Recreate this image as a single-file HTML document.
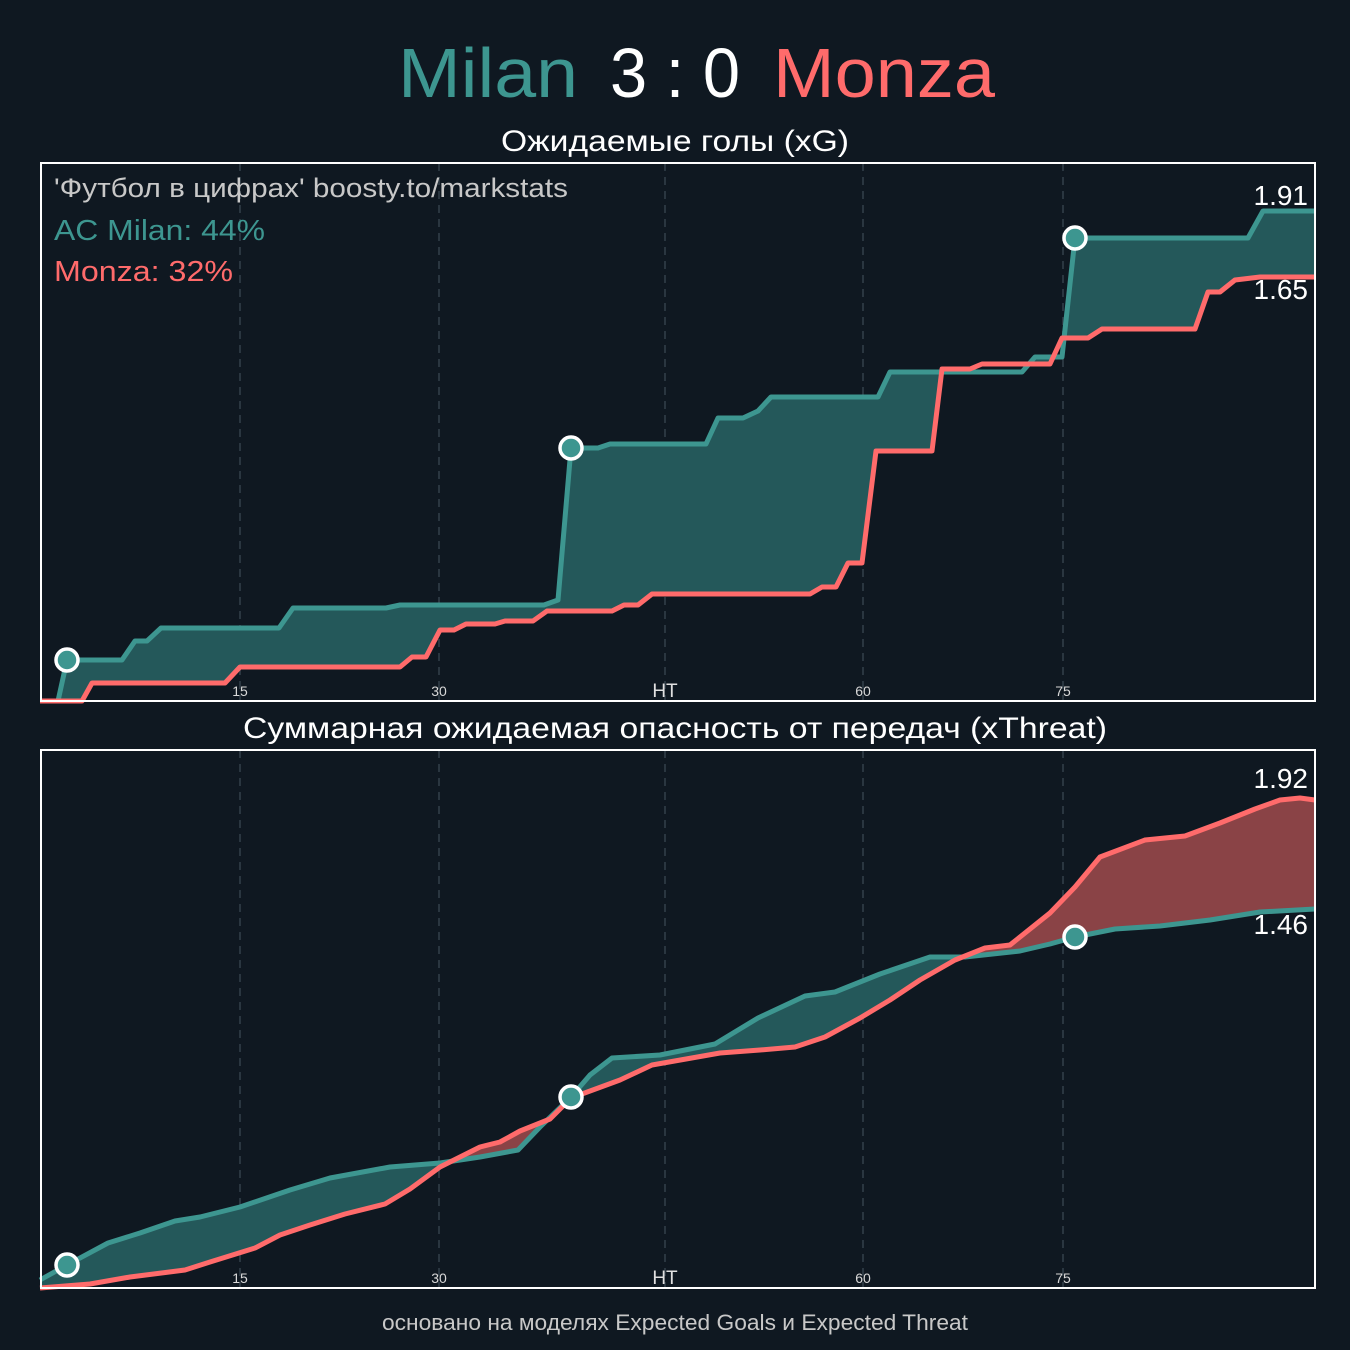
<!DOCTYPE html>
<html><head><meta charset="utf-8"><style>
html,body{margin:0;padding:0;background:#0f1821;}
svg{display:block;font-family:"Liberation Sans",sans-serif;}
</style></head><body>
<svg width="1350" height="1350" viewBox="0 0 1350 1350" xmlns="http://www.w3.org/2000/svg">
<rect width="1350" height="1350" fill="#0f1821"/>
<defs>
<clipPath id="aboveMonzaT"><polygon points="40,0 40,701 82,701 92,683 225,683 240,667 400,667 412,657 426,657 440,630 454,630 466,624 495,624 505,621 533,621 547,611 612,611 624,605 638,605 652,594 810,594 822,587 836,587 848,563 862,563 876,451 932,451 942,369 970,369 982,364 1050,364 1062,338 1088,338 1102,329 1195,329 1208,292 1220,292 1235,280 1260,277 1315,277 1315,0"/></clipPath>
<clipPath id="aboveMonzaB"><polygon points="40,700 40,1288 90,1284 130,1277 185,1270 210,1262 255,1248 280,1235 310,1225 345,1214 385,1204 410,1189 440,1167 480,1147 500,1142 520,1131 550,1119 571,1098 620,1080 652,1065 720,1053 760,1050 795,1047 825,1037 860,1018 890,1000 920,980 955,960 985,948 1010,945 1050,913 1075,887 1100,857 1145,840 1185,836 1220,823 1255,809 1280,800 1300,798 1315,800 1315,700"/></clipPath>
<clipPath id="aboveMilanB"><polygon points="40,700 40,1280 67,1265 108,1243 140,1233 175,1221 200,1217 240,1207 290,1190 330,1178 390,1167 440,1163 480,1157 518,1150 540,1127 571,1097 590,1075 612,1058 660,1055 715,1044 758,1018 805,996 835,992 880,974 930,957 965,957 1020,951 1050,944 1075,937 1115,929 1160,926 1210,920 1260,912 1315,909 1315,700"/></clipPath>
</defs>

<text x="398" y="97" font-size="70" fill="#3d9690" textLength="180" lengthAdjust="spacingAndGlyphs">Milan</text>
<text x="610" y="97" font-size="70" fill="#ffffff" textLength="130" lengthAdjust="spacingAndGlyphs">3 : 0</text>
<text x="773" y="97" font-size="70" fill="#ff6b6b" textLength="222" lengthAdjust="spacingAndGlyphs">Monza</text>
<text x="675" y="151" font-size="30" fill="#ffffff" text-anchor="middle" textLength="348" lengthAdjust="spacingAndGlyphs">Ожидаемые голы (xG)</text>
<text x="675" y="738" font-size="30" fill="#ffffff" text-anchor="middle" textLength="864" lengthAdjust="spacingAndGlyphs">Суммарная ожидаемая опасность от передач (xThreat)</text>
<text x="675" y="1330" font-size="22" fill="#c8c8c8" text-anchor="middle" textLength="586" lengthAdjust="spacingAndGlyphs">основано на моделях Expected Goals и Expected Threat</text>

<!-- grid lines -->
<g stroke="#2a3640" stroke-width="2" stroke-dasharray="8,6">
<line x1="240" y1="163" x2="240" y2="700"/><line x1="439" y1="163" x2="439" y2="700"/><line x1="665" y1="163" x2="665" y2="700"/><line x1="863" y1="163" x2="863" y2="700"/><line x1="1063" y1="163" x2="1063" y2="700"/>
<line x1="240" y1="750" x2="240" y2="1287"/><line x1="439" y1="750" x2="439" y2="1287"/><line x1="665" y1="750" x2="665" y2="1287"/><line x1="863" y1="750" x2="863" y2="1287"/><line x1="1063" y1="750" x2="1063" y2="1287"/>
</g>

<!-- TOP chart fill -->
<polygon clip-path="url(#aboveMonzaT)" fill="#24585a" points="40,701 58,701 67,660 122,660 135,641 147,641 161,628 279,628 293,608 386,608 400,605 544,605 558,600 571,448 598,448 610,444 706,444 718,418 743,418 758,411 771,397 878,397 890,372 1022,372 1035,357 1062,357 1075,238 1248,238 1263,211 1315,211 1315,277 1260,277 1235,280 1220,292 1208,292 1195,329 1102,329 1088,338 1062,338 1050,364 982,364 970,369 942,369 932,451 876,451 862,563 848,563 836,587 822,587 810,594 652,594 638,605 624,605 612,611 547,611 533,621 505,621 495,624 466,624 454,630 440,630 426,657 412,657 400,667 240,667 225,683 92,683 82,701"/>
<polyline fill="none" stroke="#3d9690" stroke-width="5" stroke-linejoin="round" points="40,701 58,701 67,660 122,660 135,641 147,641 161,628 279,628 293,608 386,608 400,605 544,605 558,600 571,448 598,448 610,444 706,444 718,418 743,418 758,411 771,397 878,397 890,372 1022,372 1035,357 1062,357 1075,238 1248,238 1263,211 1315,211"/>
<polyline fill="none" stroke="#ff6b6b" stroke-width="5" stroke-linejoin="round" points="40,701 82,701 92,683 225,683 240,667 400,667 412,657 426,657 440,630 454,630 466,624 495,624 505,621 533,621 547,611 612,611 624,605 638,605 652,594 810,594 822,587 836,587 848,563 862,563 876,451 932,451 942,369 970,369 982,364 1050,364 1062,338 1088,338 1102,329 1195,329 1208,292 1220,292 1235,280 1260,277 1315,277"/>
<g fill="#3d9690" stroke="#ffffff" stroke-width="3.5">
<circle cx="67" cy="660" r="11"/><circle cx="571" cy="448" r="11"/><circle cx="1075" cy="238" r="11"/>
</g>

<!-- BOTTOM chart fill -->
<polygon id="bfill" clip-path="url(#aboveMonzaB)" fill="#24585a" points="40,1280 67,1265 108,1243 140,1233 175,1221 200,1217 240,1207 290,1190 330,1178 390,1167 440,1163 480,1157 518,1150 540,1127 571,1097 590,1075 612,1058 660,1055 715,1044 758,1018 805,996 835,992 880,974 930,957 965,957 1020,951 1050,944 1075,937 1115,929 1160,926 1210,920 1260,912 1315,909 1315,800 1300,798 1280,800 1255,809 1220,823 1185,836 1145,840 1100,857 1075,887 1050,913 1010,945 985,948 955,960 920,980 890,1000 860,1018 825,1037 795,1047 760,1050 720,1053 652,1065 620,1080 571,1098 550,1119 520,1131 500,1142 480,1147 440,1167 410,1189 385,1204 345,1214 310,1225 280,1235 255,1248 210,1262 185,1270 130,1277 90,1284 40,1288"/>
<polygon clip-path="url(#aboveMilanB)" fill="#8a4346" points="40,1280 67,1265 108,1243 140,1233 175,1221 200,1217 240,1207 290,1190 330,1178 390,1167 440,1163 480,1157 518,1150 540,1127 571,1097 590,1075 612,1058 660,1055 715,1044 758,1018 805,996 835,992 880,974 930,957 965,957 1020,951 1050,944 1075,937 1115,929 1160,926 1210,920 1260,912 1315,909 1315,800 1300,798 1280,800 1255,809 1220,823 1185,836 1145,840 1100,857 1075,887 1050,913 1010,945 985,948 955,960 920,980 890,1000 860,1018 825,1037 795,1047 760,1050 720,1053 652,1065 620,1080 571,1098 550,1119 520,1131 500,1142 480,1147 440,1167 410,1189 385,1204 345,1214 310,1225 280,1235 255,1248 210,1262 185,1270 130,1277 90,1284 40,1288"/>
<polyline fill="none" stroke="#3d9690" stroke-width="5" stroke-linejoin="round" points="40,1280 67,1265 108,1243 140,1233 175,1221 200,1217 240,1207 290,1190 330,1178 390,1167 440,1163 480,1157 518,1150 540,1127 571,1097 590,1075 612,1058 660,1055 715,1044 758,1018 805,996 835,992 880,974 930,957 965,957 1020,951 1050,944 1075,937 1115,929 1160,926 1210,920 1260,912 1315,909"/>
<polyline fill="none" stroke="#ff6b6b" stroke-width="5" stroke-linejoin="round" points="40,1288 90,1284 130,1277 185,1270 210,1262 255,1248 280,1235 310,1225 345,1214 385,1204 410,1189 440,1167 480,1147 500,1142 520,1131 550,1119 571,1098 620,1080 652,1065 720,1053 760,1050 795,1047 825,1037 860,1018 890,1000 920,980 955,960 985,948 1010,945 1050,913 1075,887 1100,857 1145,840 1185,836 1220,823 1255,809 1280,800 1300,798 1315,800"/>
<g fill="#3d9690" stroke="#ffffff" stroke-width="3.5">
<circle cx="67" cy="1265" r="11"/><circle cx="571" cy="1097" r="11"/><circle cx="1075" cy="937" r="11"/>
</g>

<!-- frames -->
<rect x="41" y="163" width="1274" height="538" fill="none" stroke="#ffffff" stroke-width="2"/>
<rect x="41" y="750" width="1274" height="538" fill="none" stroke="#ffffff" stroke-width="2"/>

<!-- tick labels -->
<g fill="#d8d8d8" font-size="14" text-anchor="middle">
<text x="240" y="696">15</text><text x="439" y="696">30</text><text x="863" y="696">60</text><text x="1063" y="696">75</text>
<text x="240" y="1283">15</text><text x="439" y="1283">30</text><text x="863" y="1283">60</text><text x="1063" y="1283">75</text>
</g>
<g fill="#e0e0e0" font-size="19" text-anchor="middle">
<text x="665" y="697">HT</text><text x="665" y="1284">HT</text>
</g>

<!-- annotations -->
<text x="54" y="197" font-size="27" fill="#c8c8c8" textLength="514" lengthAdjust="spacingAndGlyphs">'Футбол в цифрах' boosty.to/markstats</text>
<text x="54" y="240" font-size="29" fill="#3d9690" textLength="211" lengthAdjust="spacingAndGlyphs">AC Milan: 44%</text>
<text x="54" y="281" font-size="29" fill="#ff6b6b" textLength="179" lengthAdjust="spacingAndGlyphs">Monza: 32%</text>
<g fill="#ffffff" font-size="28" text-anchor="end">
<text x="1308" y="205">1.91</text><text x="1308" y="299">1.65</text>
<text x="1308" y="788">1.92</text><text x="1308" y="934">1.46</text>
</g>
</svg>
</body></html>
